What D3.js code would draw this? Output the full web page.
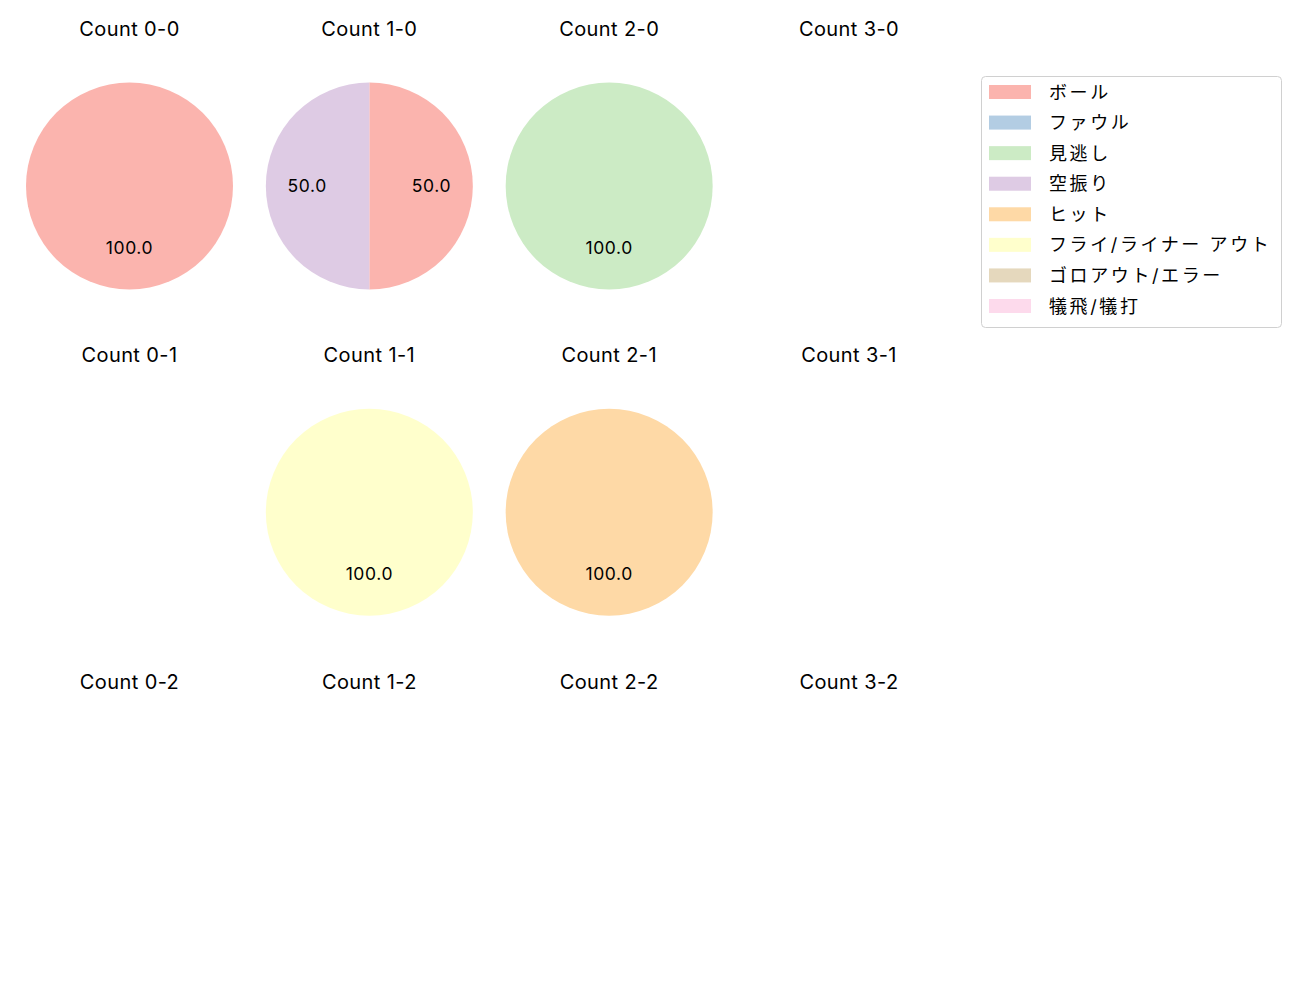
<!DOCTYPE html>
<html>
<head>
<meta charset="utf-8">
<script src="https://cdn.jsdelivr.net/npm/d3@7"></script>
<style>
  body { margin: 0; background: #fff; }
  text { font-family: Inter, "Noto Sans CJK JP", sans-serif; }
</style>
</head>
<body>
<div id="chart"></div>
<script>
// result categories and their colours (Pastel1)
const categories = ['ボール', 'ファウル', '見逃し', '空振り', 'ヒット', 'フライ/ライナー アウト', 'ゴロアウト/エラー', '犠飛/犠打'];
const colors = ['#fbb4ae', '#b3cde3', '#ccebc5', '#decbe4', '#fed9a6', '#ffffcc', '#e5d8bd', '#fddaec'];

const balls = [0, 1, 2, 3];
const strikes = [0, 1, 2];

// counts per category, keyed "balls-strikes"
const counts = {
  '0-0': [1, 0, 0, 0, 0, 0, 0, 0],
  '1-0': [1, 0, 0, 1, 0, 0, 0, 0],
  '2-0': [0, 0, 1, 0, 0, 0, 0, 0],
  '3-0': [0, 0, 0, 0, 0, 0, 0, 0],
  '0-1': [0, 0, 0, 0, 0, 0, 0, 0],
  '1-1': [0, 0, 0, 0, 0, 1, 0, 0],
  '2-1': [0, 0, 0, 0, 1, 0, 0, 0],
  '3-1': [0, 0, 0, 0, 0, 0, 0, 0],
  '0-2': [0, 0, 0, 0, 0, 0, 0, 0],
  '1-2': [0, 0, 0, 0, 0, 0, 0, 0],
  '2-2': [0, 0, 0, 0, 0, 0, 0, 0],
  '3-2': [0, 0, 0, 0, 0, 0, 0, 0]
};

const width = 1300, height = 1000;
const svg = d3.select('#chart').append('svg')
  .attr('width', width)
  .attr('height', height);

// grid positions
const x = d3.scalePoint().domain(balls).range([129.5, 849]);
const y = d3.scalePoint().domain(strikes).range([186, 838.5]);
const r = 103.5;

const color = d3.scaleOrdinal().domain(categories).range(colors);
const pie = d3.pie().sort(null).value(d => d.value);
const arc = d3.arc().innerRadius(0).outerRadius(r);
const labelArc = d3.arc().innerRadius(r * 0.6).outerRadius(r * 0.6);

strikes.forEach(s => {
  balls.forEach(b => {
    const key = b + '-' + s;
    const g = svg.append('g')
      .attr('transform', `translate(${x(b)},${y(s)})`);

    g.append('text')
      .attr('y', -157)
      .attr('text-anchor', 'middle')
      .attr('dominant-baseline', 'central')
      .style('font-size', '20px')
      .style('letter-spacing', '0.4px')
      .attr('fill', '#000')
      .text('Count ' + key);

    const data = categories.map((c, i) => ({ cat: c, value: counts[key][i] }))
      .filter(d => d.value > 0);
    if (!data.length) return;
    const total = d3.sum(data, d => d.value);

    const arcs = pie(data);
    g.selectAll('path')
      .data(arcs)
      .enter().append('path')
      .attr('d', arc)
      .attr('fill', d => color(d.data.cat));

    g.selectAll('text.pct')
      .data(arcs)
      .enter().append('text')
      .attr('class', 'pct')
      .attr('transform', d => {
        // a full circle has its centroid at the bottom, like matplotlib
        if (d.endAngle - d.startAngle >= 2 * Math.PI - 1e-6) return `translate(0,${r * 0.6 - 1})`;
        const c = labelArc.centroid(d);
        return `translate(${c[0]},${c[1] - 1})`;
      })
      .attr('text-anchor', 'middle')
      .attr('dominant-baseline', 'central')
      .style('font-size', '17.5px')
      .style('letter-spacing', '0.6px')
      .attr('fill', '#000')
      .text(d => (d.data.value / total * 100).toFixed(1));
  });
});

// legend
const legend = svg.append('g').attr('transform', 'translate(981,76)');
legend.append('rect')
  .attr('x', 0.5).attr('y', 0.5)
  .attr('width', 300).attr('height', 251)
  .attr('rx', 4)
  .attr('fill', '#fff')
  .attr('stroke', '#d0d0d0');

const ly = d3.scaleLinear().domain([0, categories.length - 1]).range([16, 230]);
const item = legend.selectAll('g.item')
  .data(categories)
  .enter().append('g')
  .attr('class', 'item')
  .attr('transform', (d, i) => `translate(0,${ly(i)})`);

item.append('rect')
  .attr('x', 8).attr('y', -7)
  .attr('width', 42).attr('height', 14)
  .attr('fill', d => color(d));

item.append('text')
  .attr('x', 68)
  .attr('dominant-baseline', 'central')
  .style('font-size', '18px')
  .style('letter-spacing', '2.6px')
  .attr('fill', '#000')
  .text(d => d);
</script>
</body>
</html>
